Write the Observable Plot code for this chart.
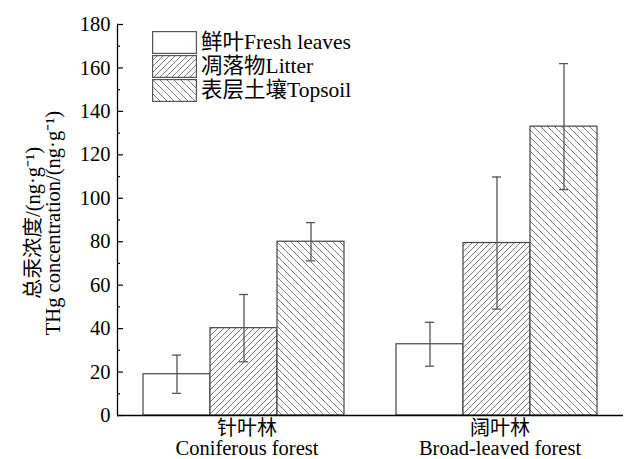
<!DOCTYPE html>
<html>
<head>
<meta charset="utf-8">
<script src="https://cdn.jsdelivr.net/npm/d3@7"></script>
<script src="https://cdn.jsdelivr.net/npm/@observablehq/plot@0.6"></script>
<style>
  body { margin: 0; background: #fff; }
  #chart { position: relative; width: 627px; height: 459px; overflow: hidden; font-family: "Liberation Serif", "Noto Sans CJK SC", serif; color: #000; }
  #chart svg { display: block; }
  .legend { position: absolute; left: 152px; top: 30px; }
  .legend .row { display: flex; align-items: center; height: 24px; }
  .legend svg { display: block; }
  .legend span { margin-left: 4px; font-size: 21.5px; line-height: 21px; white-space: nowrap; }
  .ylabel { position: absolute; white-space: nowrap; font-size: 20.5px; line-height: 20px; transform: translate(-50%, -50%) rotate(-90deg); }
</style>
</head>
<body>
<div id="chart"></div>
<script>
// Total mercury in fresh leaves, litter and topsoil of two forest types
const forestsZh = ["针叶林", "阔叶林"];
const forestsEn = ["Coniferous forest", "Broad-leaved forest"];
const types = ["鲜叶Fresh leaves", "凋落物Litter", "表层土壤Topsoil"];
const coniferousMean = [19.0, 40.2, 80.0];
const coniferousSD = [8.8, 15.5, 8.8];
const broadleafMean = [32.8, 79.4, 133.0];
const broadleafSD = [10.1, 30.4, 29.0];
const yTicks = d3.range(0, 181, 20);
const yMinorTicks = d3.range(10, 180, 20);
const yLabelLines = ["总汞浓度/(ng·g⁻¹)", "THg concentration/(ng·g⁻¹)"];

const means = [coniferousMean, broadleafMean];
const sds = [coniferousSD, broadleafSD];
const rows = forestsZh.flatMap((forest, i) =>
  types.map((type, j) => ({forest, type, mean: means[i][j], sd: sds[i][j]}))
);

// fill per sample type: plain, forward hatch, backward hatch
const fillOf = {
  [types[0]]: "#ffffff",
  [types[1]]: "url(#hatch-litter)",
  [types[2]]: "url(#hatch-topsoil)"
};

const barStroke = "#454545";
const errStroke = "#555555";

const plot = Plot.plot({
  width: 627,
  height: 459,
  marginLeft: 117,
  marginRight: 4,
  marginTop: 24,
  marginBottom: 44,
  style: {fontFamily: "'Liberation Serif', 'Noto Sans CJK SC', serif", fontSize: "20px", color: "#000", background: "#fff"},
  fx: {domain: forestsZh, padding: 0},
  x: {domain: types, paddingInner: 0, paddingOuter: 0.374, axis: null},
  y: {domain: [0, 180]},
  color: {type: "identity"},
  marks: [
    Plot.barY(rows, {fx: "forest", x: "type", y: "mean", fill: d => fillOf[d.type], stroke: barStroke, strokeWidth: 1.2}),
    Plot.ruleX(rows, {fx: "forest", x: "type", y1: d => d.mean - d.sd, y2: d => d.mean + d.sd, stroke: errStroke, strokeWidth: 1.3}),
    Plot.tickY(rows, {fx: "forest", x: "type", y: d => d.mean - d.sd, inset: 29, stroke: errStroke, strokeWidth: 1.3}),
    Plot.tickY(rows, {fx: "forest", x: "type", y: d => d.mean + d.sd, inset: 29, stroke: errStroke, strokeWidth: 1.3}),
    Plot.ruleY([0], {stroke: "#000", strokeWidth: 1.3}),
    Plot.frame({anchor: "left", facetAnchor: "left", stroke: "#000", strokeWidth: 1.3}),
    // inward major and minor ticks
    Plot.axisY({ticks: yTicks, tickSize: 6, dx: 6, fill: "none", label: null, stroke: "#000", strokeWidth: 1.2}),
    Plot.axisY({ticks: yMinorTicks, tickSize: 3, dx: 3, fill: "none", label: null, stroke: "#000", strokeWidth: 1.2}),
    Plot.axisY({ticks: yTicks, tickSize: 0, tickPadding: 7, fontSize: 20.5, label: null}),
    // forest names: Chinese line above English line
    Plot.axisFx({anchor: "bottom", tickSize: 0, tickPadding: 5, label: null, fontSize: 20, dx: 3}),
    Plot.axisFx({anchor: "bottom", tickSize: 0, tickPadding: 25, label: null, fontSize: 20.5, dx: 3,
      tickFormat: d => forestsEn[forestsZh.indexOf(d)]})
  ]
});

// hatch patterns used by the bars and the legend swatches
const defs = d3.select(plot).insert("defs", ":first-child");
const litter = defs.append("pattern").attr("id", "hatch-litter")
  .attr("patternUnits", "userSpaceOnUse").attr("width", 6).attr("height", 6);
litter.append("rect").attr("width", 6).attr("height", 6).attr("fill", "#fff");
litter.append("path").attr("d", "M-1,1L1,-1M0,6L6,0M5,7L7,5")
  .attr("stroke", "#6a6a6a").attr("stroke-width", 0.9);
const topsoil = defs.append("pattern").attr("id", "hatch-topsoil")
  .attr("patternUnits", "userSpaceOnUse").attr("width", 7).attr("height", 7);
topsoil.append("rect").attr("width", 7).attr("height", 7).attr("fill", "#fff");
topsoil.append("path").attr("d", "M-1,6L1,8M0,0L7,7M6,-1L8,1")
  .attr("stroke", "#6a6a6a").attr("stroke-width", 0.9);

const chart = document.getElementById("chart");
chart.appendChild(plot);

// rotated two-line axis title, centred on the plot's vertical extent
const yMid = 223;
yLabelLines.forEach((line, i) => {
  d3.select(chart).append("div").attr("class", "ylabel")
    .style("left", (33 + 20 * i) + "px").style("top", yMid + "px")
    .text(line);
});

// legend
const legend = d3.select(chart).append("div").attr("class", "legend");
types.forEach(type => {
  const row = legend.append("div").attr("class", "row");
  row.append("svg").attr("width", 45).attr("height", 23)
    .append("rect").attr("x", 0.6).attr("y", 0.6).attr("width", 43.8).attr("height", 21.8)
    .attr("fill", fillOf[type]).attr("stroke", "#555").attr("stroke-width", 1.2);
  row.append("span").text(type);
});
</script>
</body>
</html>
